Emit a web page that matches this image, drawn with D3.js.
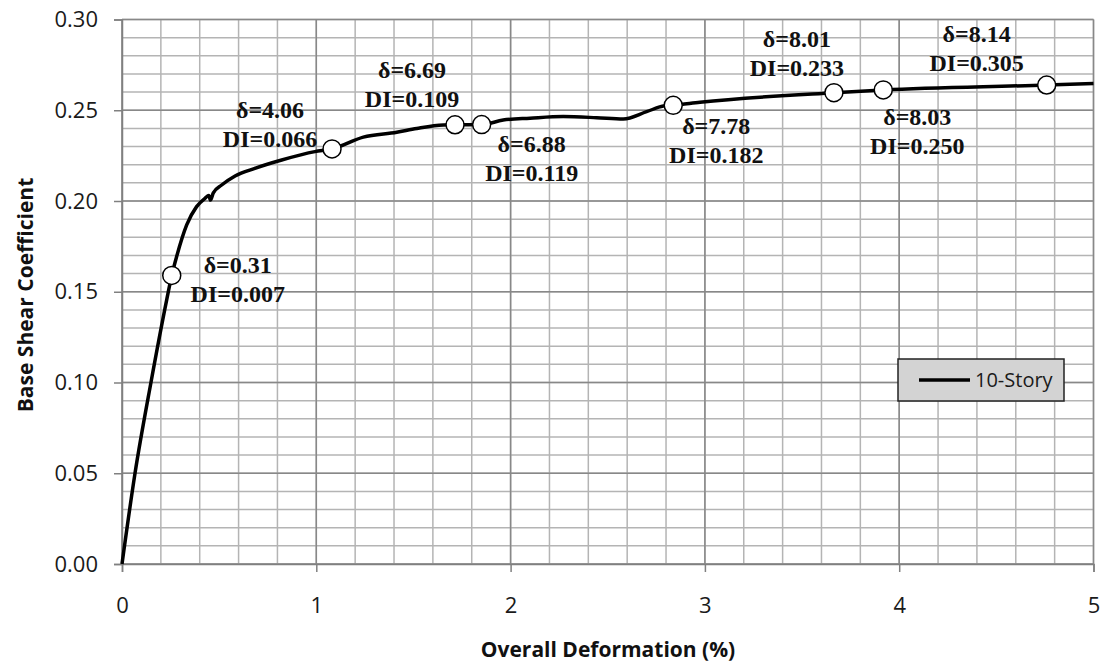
<!DOCTYPE html>
<html>
<head>
<meta charset="utf-8">
<script src="https://cdn.jsdelivr.net/npm/d3@7"></script>
<style>
  body { margin: 0; background: #fff; }
  svg { display: block; }
</style>
</head>
<body>
<svg width="1105" height="667"></svg>
<script>
// pushover curve
var curveX = [0, 0.067, 0.149, 0.230, 0.256, 0.281, 0.333, 0.384, 0.427, 0.447, 0.455, 0.470, 0.513, 0.582, 0.684, 0.822, 0.993, 1.081,
              1.242, 1.414, 1.517, 1.654, 1.714, 1.851, 1.962, 2.100, 2.271, 2.443, 2.580, 2.700, 2.786, 2.837, 2.975, 3.664, 3.918, 4.759, 5]
var curveY = [0, 0.050, 0.100, 0.1455, 0.159, 0.1693, 0.1868, 0.1969, 0.2015, 0.2030, 0.2005, 0.2045, 0.2088, 0.2138, 0.2180, 0.2226, 0.2272, 0.2287,
              0.2352, 0.2379, 0.2400, 0.2419, 0.2420, 0.2421, 0.2446, 0.2456, 0.2465, 0.2459, 0.2452, 0.2492, 0.2523, 0.2527, 0.2544, 0.2597, 0.2612, 0.2639, 0.2648]

// marked states
var pointX = [0.256, 1.081, 1.714, 1.851, 2.837, 3.664, 3.918, 4.759]
var pointY = [0.159, 0.2287, 0.2420, 0.2421, 0.2527, 0.2597, 0.2612, 0.2639]
var deltaVals = ["0.31", "4.06", "6.69", "6.88", "7.78", "8.01", "8.03", "8.14"]
var diVals = ["0.007", "0.066", "0.109", "0.119", "0.182", "0.233", "0.250", "0.305"]

var xTicks = [0, 1, 2, 3, 4, 5]
var yTicks = [0, 0.05, 0.10, 0.15, 0.20, 0.25, 0.30]
var seriesName = "10-Story"

// label placement relative to each marker (px)
var labelOffset = [[66, -2], [-62, -31], [-43, -47], [50, 27], [43, 29], [-37, -46], [34, 35], [-70, -43]]

var svg = d3.select("svg")
var plotL = 122, plotR = 1093.5, plotT = 19.5, plotB = 564

var xScale = d3.scaleLinear().domain([0, 5]).range([plotL, plotR])
var yScale = d3.scaleLinear().domain([0, 0.30]).range([plotB, plotT])

// minor grid
var grid = svg.append("g")
grid.selectAll("line.vx")
    .data(d3.range(0, 5.0001, 0.2))
    .enter().append("line")
    .attr("x1", d => xScale(d)).attr("x2", d => xScale(d))
    .attr("y1", plotT).attr("y2", plotB)
    .attr("stroke", "#b4b4b4").attr("stroke-width", 1.5)
grid.selectAll("line.hy")
    .data(d3.range(0, 0.3001, 0.01))
    .enter().append("line")
    .attr("y1", d => yScale(d)).attr("y2", d => yScale(d))
    .attr("x1", plotL).attr("x2", plotR)
    .attr("stroke", "#b4b4b4").attr("stroke-width", 1.5)
// major grid
grid.selectAll("line.mx")
    .data(xTicks)
    .enter().append("line")
    .attr("x1", d => xScale(d)).attr("x2", d => xScale(d))
    .attr("y1", plotT).attr("y2", plotB)
    .attr("stroke", "#888").attr("stroke-width", 1.5)
grid.selectAll("line.my")
    .data(yTicks)
    .enter().append("line")
    .attr("y1", d => yScale(d)).attr("y2", d => yScale(d))
    .attr("x1", plotL).attr("x2", plotR)
    .attr("stroke", "#888").attr("stroke-width", 1.5)

// axes
var xAxis = d3.axisBottom(xScale).tickValues(xTicks).tickSize(8).tickPadding(25).tickFormat(d3.format("d"))
svg.append("g").attr("id", "xAxis")
    .attr("transform", "translate(0," + plotB + ")")
    .call(xAxis)
var yAxis = d3.axisLeft(yScale).tickValues(yTicks).tickSize(8).tickPadding(16).tickFormat(d3.format(".2f"))
svg.append("g").attr("id", "yAxis")
    .attr("transform", "translate(" + plotL + ",0)")
    .call(yAxis)
svg.selectAll("#xAxis path, #yAxis path").attr("stroke", "#808080").attr("stroke-width", 1.5)
svg.selectAll("#xAxis line, #yAxis line").attr("stroke", "#808080").attr("stroke-width", 1.5)
svg.selectAll("#xAxis text, #yAxis text")
    .attr("font-family", "Open Sans").attr("font-size", 22).attr("fill", "#1a1a1a")

// axis titles
svg.append("text")
    .attr("x", 608).attr("y", 657)
    .attr("text-anchor", "middle")
    .attr("font-family", "Open Sans").attr("font-weight", "bold").attr("font-size", 21)
    .attr("fill", "#111")
    .text("Overall Deformation (%)")
svg.append("text")
    .attr("transform", "translate(33,295) rotate(-90)")
    .attr("text-anchor", "middle")
    .attr("font-family", "Open Sans").attr("font-weight", "bold").attr("font-size", 21)
    .attr("fill", "#111")
    .text("Base Shear Coefficient")

// curve
var line = d3.line()
    .x((d, i) => xScale(curveX[i]))
    .y((d, i) => yScale(curveY[i]))
    .curve(d3.curveMonotoneX)
svg.append("path")
    .datum(curveX)
    .attr("d", line)
    .attr("fill", "none")
    .attr("stroke", "#000")
    .attr("stroke-width", 3.5)
    .attr("stroke-linejoin", "round")

// markers
var marks = svg.selectAll("g.mark")
    .data(pointX)
    .enter()
    .append("g")
    .attr("class", "mark")
marks.append("circle")
    .attr("cx", d => xScale(d))
    .attr("cy", (d, i) => yScale(pointY[i]))
    .attr("r", 9)
    .attr("fill", "#fff")
    .attr("stroke", "#000")
    .attr("stroke-width", 1.5)

var lab = marks.append("text")
    .attr("text-anchor", "middle")
    .attr("font-family", "Liberation Serif").attr("font-weight", "bold").attr("font-size", 24)
    .attr("fill", "#111")
lab.append("tspan")
    .attr("x", (d, i) => xScale(d) + labelOffset[i][0])
    .attr("y", (d, i) => yScale(pointY[i]) + labelOffset[i][1])
    .text((d, i) => "\u03b4=" + deltaVals[i])
lab.append("tspan")
    .attr("x", (d, i) => xScale(d) + labelOffset[i][0])
    .attr("y", (d, i) => yScale(pointY[i]) + labelOffset[i][1] + 29)
    .text((d, i) => "DI=" + diVals[i])

// legend
var legend = svg.append("g").attr("transform", "translate(898,359)")
legend.append("rect")
    .attr("width", 166).attr("height", 42)
    .attr("fill", "#d3d3d3").attr("stroke", "#222").attr("stroke-width", 1.5)
legend.append("line")
    .attr("x1", 21).attr("x2", 72).attr("y1", 21).attr("y2", 21)
    .attr("stroke", "#000").attr("stroke-width", 3.5)
legend.append("text")
    .attr("x", 77).attr("y", 28)
    .attr("font-family", "Open Sans").attr("font-size", 20).attr("fill", "#1a1a1a")
    .text(seriesName)
</script>
</body>
</html>
